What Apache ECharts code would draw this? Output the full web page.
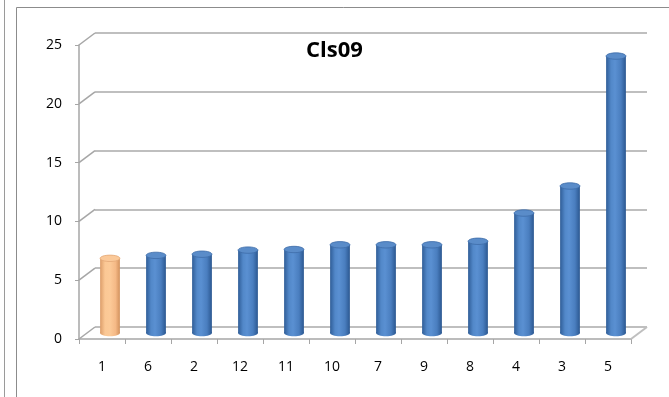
<!DOCTYPE html>
<html>
<head>
<meta charset="utf-8">
<script src="https://cdn.jsdelivr.net/npm/echarts@6/dist/echarts.min.js"></script>
<style>
  html, body { margin: 0; padding: 0; background: #fff; }
  #chart { width: 669px; height: 397px; }
</style>
</head>
<body>
<div id="chart"></div>
<script>
// Cls09 values, sorted ascending; the first bar is highlighted
const categories = ['1', '6', '2', '12', '11', '10', '7', '9', '8', '4', '3', '5'];
const values = [6.35, 6.6, 6.7, 7.05, 7.1, 7.5, 7.5, 7.5, 7.8, 10.2, 12.5, 23.55];
const highlighted = ['1'];
const yTicks = [0, 5, 10, 15, 20, 25];
const titleText = 'Cls09';

// 3D depth offset of the back wall relative to the front axes
const DEPTH_X = 16;
const DEPTH_Y = -12;

const FRONT = { left: 79, right: 38, top: 45, bottom: 58 };
const BACK = {
  left: FRONT.left + DEPTH_X,
  right: FRONT.right - DEPTH_X,
  top: FRONT.top + DEPTH_Y,
  bottom: FRONT.bottom - DEPTH_Y
};

const FONT = 'Open Sans';
const gridColor = '#bfbfbf';
const axisColor = '#a6a6a6';

const chart = echarts.init(document.getElementById('chart'), null, { renderer: 'canvas' });

function grad(stops) {
  return new echarts.graphic.LinearGradient(0, 0, 1, 0, stops.map((c) => ({ offset: c[0], color: c[1] })));
}
const blueBody = grad([[0, '#2f5d97'], [0.25, '#5288c9'], [0.45, '#5a90d2'], [0.75, '#4a7ebf'], [1, '#2b5790']]);
const blueTop = '#5a8cc9';
const orangeBody = grad([[0, '#dc9d69'], [0.25, '#fbc895'], [0.5, '#fcca98'], [0.78, '#f5b986'], [1, '#d2915c']]);
const orangeTop = '#fbc999';

// cylinder bars, centred halfway into the depth of the floor
function renderCylinder(params, api) {
  const idx = api.value(0);
  const top = api.coord([idx, api.value(1)]);
  const base = api.coord([idx, 0]);
  const w = api.size([1, 0])[0] * 0.43;
  const cx = top[0] + DEPTH_X / 2;
  const yTop = top[1] + DEPTH_Y / 2;
  const yBase = base[1] + DEPTH_Y / 2;
  const ry = 3.2;
  const hi = highlighted.indexOf(categories[idx]) >= 0;
  const body = hi ? orangeBody : blueBody;
  const cap = hi ? orangeTop : blueTop;
  return {
    type: 'group',
    children: [
      { type: 'ellipse', shape: { cx: cx, cy: yBase, rx: w / 2, ry: ry }, style: { fill: body } },
      { type: 'rect', shape: { x: cx - w / 2, y: yTop, width: w, height: yBase - yTop }, style: { fill: body } },
      { type: 'ellipse', shape: { cx: cx, cy: yTop, rx: w / 2, ry: ry },
        style: { fill: cap, stroke: hi ? '#e3a877' : '#3d6ca8', lineWidth: 0.8 } }
    ]
  };
}

// diagonal edges joining each front tick with the back wall gridline
function renderDiagonal(params, api) {
  const p = api.coord([0, api.value(0)]);
  const x0 = params.coordSys.x;
  return {
    type: 'line',
    shape: { x1: x0, y1: p[1], x2: x0 + DEPTH_X, y2: p[1] + DEPTH_Y },
    style: { stroke: axisColor, lineWidth: 1.5 }
  };
}

// right edge of the floor
function renderFloorEdge(params, api) {
  const cs = params.coordSys;
  const p = api.coord([0, 0]);
  const x0 = cs.x + cs.width;
  return {
    type: 'line',
    shape: { x1: x0, y1: p[1], x2: x0 + DEPTH_X, y2: p[1] + DEPTH_Y },
    style: { stroke: gridColor, lineWidth: 2 }
  };
}

const option = {
  animation: false,
  backgroundColor: '#ffffff',
  title: {
    text: titleText,
    left: 'center',
    top: 35,
    textStyle: { fontFamily: FONT, fontSize: 22, fontWeight: 'bold', color: '#000' }
  },
  graphic: [
    { type: 'line', shape: { x1: 4.5, y1: 0, x2: 4.5, y2: 397 }, style: { stroke: '#9a9a9a', lineWidth: 1 }, silent: true },
    { type: 'rect', shape: { x: 16.5, y: 7.5, width: 700, height: 500 }, style: { fill: 'none', stroke: '#8c8c8c', lineWidth: 1 }, silent: true }
  ],
  grid: [
    Object.assign({ containLabel: false }, FRONT),
    Object.assign({ containLabel: false }, BACK)
  ],
  xAxis: [
    {
      type: 'category', gridIndex: 0, data: categories,
      axisLine: { lineStyle: { color: axisColor, width: 1.5 } },
      axisTick: { show: true, length: 5, lineStyle: { color: axisColor, width: 1 } },
      axisLabel: { color: '#000', fontFamily: FONT, fontSize: 14, margin: 21 },
      splitLine: { show: false }
    },
    {
      type: 'category', gridIndex: 1, data: categories, show: false
    }
  ],
  yAxis: [
    {
      type: 'value', gridIndex: 0, min: 0, max: 25, interval: 5,
      axisLine: { show: true, lineStyle: { color: axisColor, width: 1.5 } },
      axisTick: { show: true, length: 4, lineStyle: { color: axisColor, width: 1 } },
      axisLabel: { color: '#000', fontFamily: FONT, fontSize: 14, margin: 17 },
      splitLine: { show: false }
    },
    {
      type: 'value', gridIndex: 1, min: 0, max: 25, interval: 5,
      axisLine: { show: false }, axisTick: { show: false }, axisLabel: { show: false },
      splitLine: { show: true, lineStyle: { color: gridColor, width: 2 } }
    }
  ],
  series: [
    {
      type: 'custom', xAxisIndex: 0, yAxisIndex: 0,
      renderItem: renderDiagonal,
      data: yTicks.map(v => [v]),
      encode: { y: 0 },
      silent: true, z: 1
    },
    {
      type: 'custom', xAxisIndex: 0, yAxisIndex: 0,
      renderItem: renderFloorEdge,
      data: [[0]],
      encode: { y: 0 },
      silent: true, z: 1
    },
    {
      type: 'custom', xAxisIndex: 0, yAxisIndex: 0,
      renderItem: renderCylinder,
      data: values.map((v, i) => [i, v]),
      encode: { x: 0, y: 1 },
      z: 3
    }
  ]
};

chart.setOption(option);
</script>
</body>
</html>
